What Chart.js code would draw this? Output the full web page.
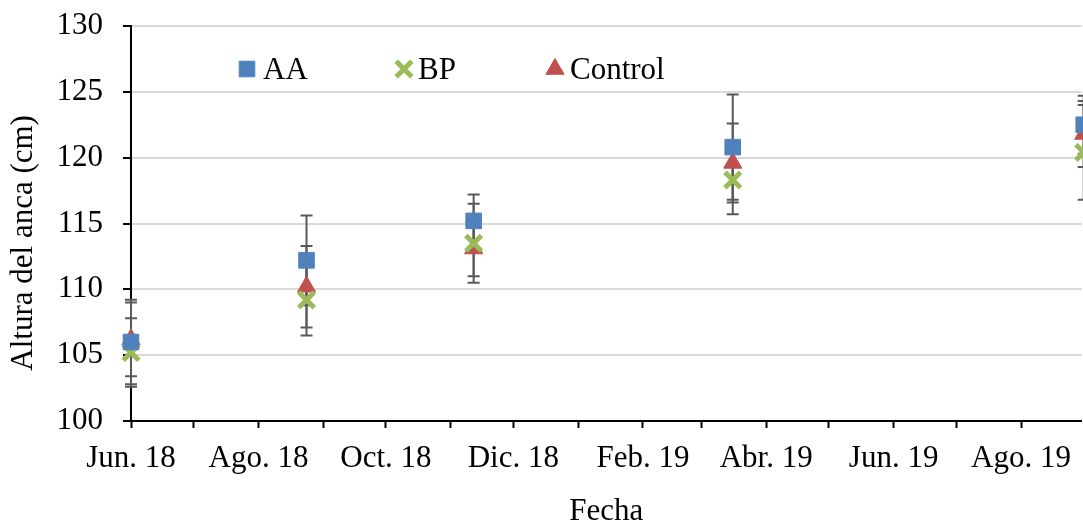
<!DOCTYPE html>
<html>
<head>
<meta charset="utf-8">
<script src="https://cdn.jsdelivr.net/npm/chart.js@4.4.1/dist/chart.umd.min.js"></script>
<style>
    html, body { margin: 0; padding: 0; background: #fff; overflow: hidden; }
    canvas { display: block; }
</style>
</head>
<body>
<canvas id="grafico" width="1083" height="525"></canvas>
<script>
// fechas de medición y valores
var fechas = ['2018-06-01', '2018-08-24', '2018-11-12', '2019-03-16', '2019-08-31'];
var alturaAA = [106.0, 112.2, 115.2, 120.8, 122.5];
var errorAA = [3.2, 3.4, 2.0, 4.0, 2.2];
var alturaBP = [105.2, 109.2, 113.5, 118.3, 120.4];
var errorBP = [2.6, 2.7, 3.0, 2.6, 3.6];
var alturaControl = [106.2, 110.2, 113.1, 119.6, 121.8];
var errorControl = [2.8, 3.1, 2.1, 3.0, 2.5];

// eje de fechas: un tick por mes, etiqueta cada dos meses
var mesesEje = ['2018-06-01', '2018-07-01', '2018-08-01', '2018-09-01', '2018-10-01', '2018-11-01', '2018-12-01',
    '2019-01-01', '2019-02-01', '2019-03-01', '2019-04-01', '2019-05-01', '2019-06-01', '2019-07-01', '2019-08-01'];
var etiquetasEje = ['Jun. 18', '', 'Ago. 18', '', 'Oct. 18', '', 'Dic. 18',
    '', 'Feb. 19', '', 'Abr. 19', '', 'Jun. 19', '', 'Ago. 19'];

var inicio = Date.UTC(2018, 5, 1);
function dias(f) {
    var p = f.split('-');
    return (Date.UTC(+p[0], +p[1] - 1, +p[2]) - inicio) / 86400000;
}
function puntos(valores) {
    return valores.map((v, i) => ({ x: dias(fechas[i]), y: v }));
}

var fuente = "'Liberation Serif', 'Times New Roman', serif";
var colorAA = '#4F81BD', colorBP = '#9BBB59', colorControl = '#C0504D';

var barrasError = {
    id: 'barrasError',
    beforeDatasetsDraw: function (chart) {
        var ctx = chart.ctx;
        var y = chart.scales.y;
        ctx.save();
        ctx.strokeStyle = '#595959';
        ctx.lineWidth = 2;
        chart.data.datasets.forEach((ds, i) => {
            var meta = chart.getDatasetMeta(i);
            meta.data.forEach((p, j) => {
                var e = ds.errores[j];
                var v = ds.data[j].y;
                var y1 = y.getPixelForValue(v + e);
                var y2 = y.getPixelForValue(v - e);
                ctx.beginPath();
                ctx.moveTo(p.x, y1); ctx.lineTo(p.x, y2);
                ctx.moveTo(p.x - 6, y1); ctx.lineTo(p.x + 6, y1);
                ctx.moveTo(p.x - 6, y2); ctx.lineTo(p.x + 6, y2);
                ctx.stroke();
            });
        });
        ctx.restore();
    }
};

// leyenda dentro del área del gráfico
var posLeyenda = [{ m: 247, t: 263 }, { m: 404, t: 418 }, { m: 555, t: 570 }];
var leyenda = {
    id: 'leyenda',
    afterDatasetsDraw: function (chart) {
        var ctx = chart.ctx;
        ctx.save();
        chart.data.datasets.forEach((ds, i) => {
            var pos = posLeyenda[i];
            ctx.fillStyle = ds.backgroundColor;
            ctx.strokeStyle = ds.borderColor;
            ctx.lineWidth = ds.borderWidth;
            Chart.helpers.drawPoint(ctx, { pointStyle: ds.pointStyle, radius: ds.pointRadius, rotation: 0, borderWidth: ds.borderWidth }, pos.m, 69);
            ctx.fillStyle = '#000';
            ctx.font = '31px ' + fuente;
            ctx.textBaseline = 'middle';
            ctx.textAlign = 'left';
            ctx.fillText(ds.label, pos.t, 71);
        });
        ctx.restore();
    }
};

var grafico = new Chart(document.getElementById('grafico'), {
    type: 'scatter',
    data: {
        datasets: [
            {
                label: 'AA', data: puntos(alturaAA), errores: errorAA,
                pointStyle: 'rect', pointRadius: 11, pointHoverRadius: 11,
                backgroundColor: colorAA, borderColor: colorAA, borderWidth: 1, clip: false
            },
            {
                label: 'BP', data: puntos(alturaBP), errores: errorBP,
                pointStyle: 'crossRot', pointRadius: 11, pointHoverRadius: 11,
                backgroundColor: colorBP, borderColor: colorBP, borderWidth: 5, clip: false
            },
            {
                label: 'Control', data: puntos(alturaControl), errores: errorControl,
                pointStyle: 'triangle', pointRadius: 10.5, pointHoverRadius: 10.5,
                backgroundColor: colorControl, borderColor: colorControl, borderWidth: 1, clip: false
            }
        ]
    },
    options: {
        responsive: false,
        animation: false,
        devicePixelRatio: 1,
        layout: { autoPadding: false, padding: { top: 26, right: 0, left: 0, bottom: 0 } },
        plugins: {
            legend: { display: false },
            tooltip: { enabled: false }
        },
        scales: {
            x: {
                type: 'linear',
                min: 0,
                max: 455,
                afterBuildTicks: function (scale) {
                    scale.ticks = mesesEje.map(m => ({ value: dias(m) }));
                },
                afterFit: function (scale) { scale.height = 104; },
                ticks: {
                    autoSkip: false,
                    maxRotation: 0,
                    minRotation: 0,
                    padding: 12,
                    color: '#000',
                    font: { family: fuente, size: 31 },
                    callback: function (value, index) { return etiquetasEje[index]; }
                },
                grid: {
                    drawOnChartArea: false,
                    drawTicks: true,
                    tickLength: 7,
                    tickColor: '#000',
                    tickWidth: 2
                },
                border: { display: true, color: '#000', width: 2 },
                title: {
                    display: true,
                    text: 'Fecha',
                    color: '#000',
                    font: { family: fuente, size: 31, lineHeight: 1 },
                    padding: { top: 0, bottom: -2 }
                }
            },
            y: {
                min: 100,
                max: 130,
                afterFit: function (scale) {
                    scale.width = 131;
                    scale.paddingTop = 0;
                    scale.paddingBottom = 0;
                },
                ticks: {
                    stepSize: 5,
                    padding: 20,
                    color: '#000',
                    font: { family: fuente, size: 31 }
                },
                grid: {
                    color: '#d9d9d9',
                    lineWidth: 2,
                    tickLength: 8,
                    tickColor: '#000',
                    tickWidth: 2
                },
                border: { display: true, color: '#000', width: 2 },
                title: {
                    display: true,
                    text: 'Altura del anca (cm)     ',
                    color: '#000',
                    font: { family: fuente, size: 31, lineHeight: 1 },
                    padding: { top: 8, bottom: 0 }
                }
            }
        }
    },
    plugins: [barrasError, leyenda]
});
</script>
</body>
</html>
